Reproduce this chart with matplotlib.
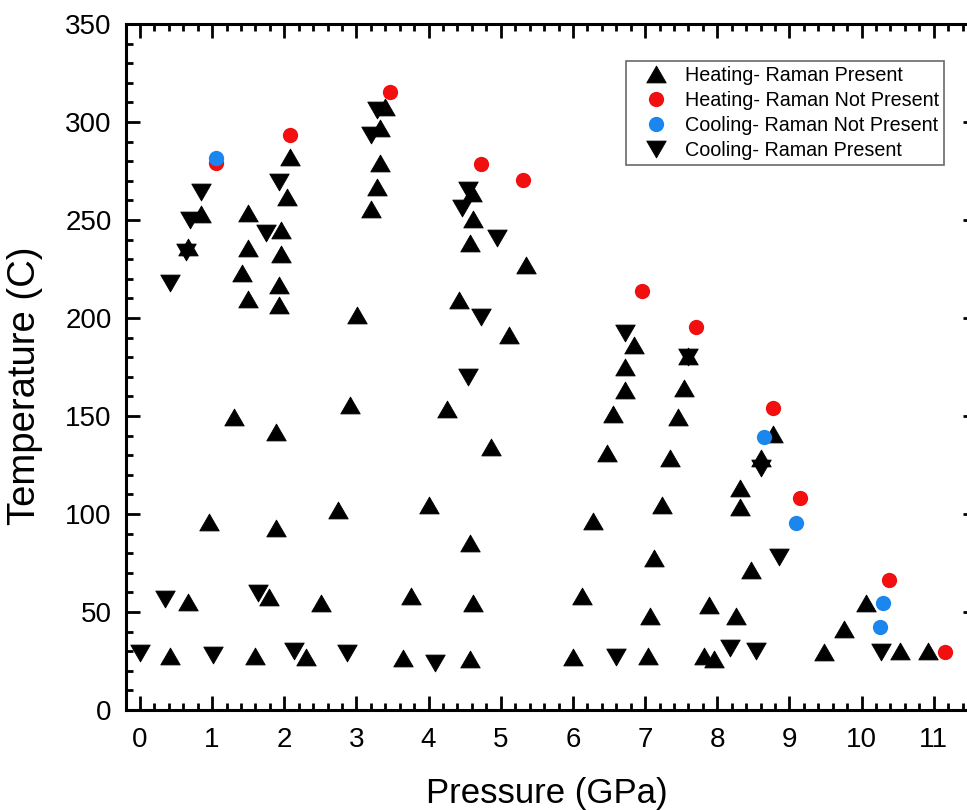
import numpy as np
import matplotlib.pyplot as plt
from matplotlib.path import Path
from matplotlib.ticker import MultipleLocator

plt.rcParams['font.family'] = ['Liberation Sans', 'DejaVu Sans']

# Heating - Raman present (up triangles)
heat_p_x = [0.42, 0.67, 0.66, 0.85, 0.96, 1.30, 1.42, 1.50, 1.50, 1.50, 1.59, 1.79,
            1.88, 1.88, 1.93, 1.93, 1.96, 1.96, 2.04, 2.08, 2.30, 2.51, 2.74, 2.91,
            3.01, 3.20, 3.28, 3.33, 3.33, 3.40, 3.65, 3.76, 4.01, 4.26, 4.42, 4.57,
            4.57, 4.61, 4.58, 4.61, 4.60, 4.87, 5.11, 5.35, 6.00, 6.12, 6.28, 6.47,
            6.56, 6.72, 6.72, 6.84, 7.04, 7.07, 7.12, 7.23, 7.35, 7.46, 7.54, 7.59,
            7.82, 7.95, 7.88, 8.26, 8.31, 8.31, 8.47, 8.60, 8.77, 9.48, 9.75, 10.06,
            10.53, 10.92]
heat_p_y = [27.6, 55.3, 236.4, 253.0, 96.1, 149.7, 223.1, 253.7, 235.5, 209.8, 27.6, 57.8,
            142.0, 92.7, 216.8, 206.6, 244.9, 232.7, 261.9, 282.3, 27.2, 54.4, 102.0, 155.6,
            201.5, 255.4, 267.0, 278.9, 296.8, 307.8, 26.4, 58.2, 104.6, 153.4, 209.2, 25.9,
            85.4, 54.7, 238.4, 250.3, 263.6, 134.0, 191.3, 227.0, 26.9, 58.2, 96.6, 130.9,
            151.0, 163.3, 175.2, 186.0, 27.6, 48.0, 77.4, 104.6, 128.4, 149.3, 164.1, 180.5,
            27.6, 25.9, 53.6, 48.0, 103.7, 113.1, 71.4, 128.4, 140.8, 29.8, 41.2, 54.7,
            30.3, 30.3]

# Heating - Raman not present (red)
heat_np_x = [1.05, 2.08, 3.47, 4.73, 5.31, 6.96, 7.70, 8.77, 9.14, 10.38, 11.16]
heat_np_y = [278.9, 293.4, 315.5, 278.6, 270.4, 213.9, 195.2, 153.9, 107.9, 66.3, 29.8]

# Cooling - Raman not present (blue)
cool_np_x = [1.05, 8.65, 9.09, 10.30, 10.26]
cool_np_y = [281.8, 139.5, 95.2, 54.7, 42.2]

# Cooling - Raman present (down triangles)
cool_p_x = [0.0, 0.35, 0.42, 0.64, 0.69, 0.84, 1.01, 1.64, 1.75, 1.92, 2.13, 2.87,
            3.20, 3.29, 4.09, 4.46, 4.54, 4.54, 4.73, 4.95, 6.60, 6.72, 7.59, 8.17,
            8.54, 8.61, 8.86, 10.27]
cool_p_y = [29.2, 56.5, 217.7, 233.8, 250.0, 264.4, 28.1, 59.5, 243.2, 269.5, 30.3, 28.9,
            293.4, 306.1, 24.1, 255.9, 265.3, 169.7, 200.7, 240.6, 26.9, 192.2, 180.0, 31.8,
            30.3, 123.3, 78.2, 29.8]

# equilateral triangles, centred on their box
up_tri = Path([(0, 0.433), (-0.5, -0.433), (0.5, -0.433), (0, 0.433)],
              [Path.MOVETO, Path.LINETO, Path.LINETO, Path.CLOSEPOLY])
down_tri = Path([(0, -0.433), (-0.5, 0.433), (0.5, 0.433), (0, -0.433)],
                [Path.MOVETO, Path.LINETO, Path.LINETO, Path.CLOSEPOLY])

fig = plt.figure(figsize=(9.67, 8.10), dpi=100)
ax = fig.add_axes([0.1298, 0.1235, 0.8806, 0.8469])

ax.plot(heat_p_x, heat_p_y, ls='none', marker=up_tri, ms=14, color='black',
        mew=0.6, label='Heating- Raman Present')
ax.plot(heat_np_x, heat_np_y, ls='none', marker='o', ms=11, color='#f20f0f',
        mew=0, label='Heating- Raman Not Present')
ax.plot(cool_np_x, cool_np_y, ls='none', marker='o', ms=11, color='#1b87ee',
        mew=0, label='Cooling- Raman Not Present')
ax.plot(cool_p_x, cool_p_y, ls='none', marker=down_tri, ms=14, color='black',
        mew=0.6, label='Cooling- Raman Present')

ax.set_xlim(-0.2, 11.6)
ax.set_ylim(0, 350)
ax.xaxis.set_major_locator(MultipleLocator(1))
ax.xaxis.set_minor_locator(MultipleLocator(0.2))
ax.yaxis.set_major_locator(MultipleLocator(50))
ax.yaxis.set_minor_locator(MultipleLocator(10))

ax.tick_params(which='both', direction='in', top=True, right=True, width=2, colors='black')
ax.tick_params(which='major', length=10)
ax.tick_params(which='minor', length=5)
ax.tick_params(axis='x', which='major', labelsize=20, pad=12)
ax.tick_params(axis='y', which='major', labelsize=20, pad=10)
for sp in ax.spines.values():
    sp.set_linewidth(2.2)

ax.set_xlabel('Pressure (GPa)', fontsize=25)
ax.set_ylabel('Temperature (C)', fontsize=27.5)
ax.xaxis.set_label_coords(0.495, -0.097)
ax.yaxis.set_label_coords(-0.097, 0.472)

leg = ax.legend(loc='upper left', bbox_to_anchor=(626 / 967, 1 - 61 / 810),
                bbox_transform=fig.transFigure, fontsize=14.2, frameon=True,
                fancybox=False, borderaxespad=0, borderpad=0.25, labelspacing=0.3,
                handlelength=2.5, handletextpad=0.25)
leg.get_frame().set_edgecolor('#444444')
leg.get_frame().set_linewidth(1.2)

fig.savefig('out.png', dpi=100, facecolor='white')
